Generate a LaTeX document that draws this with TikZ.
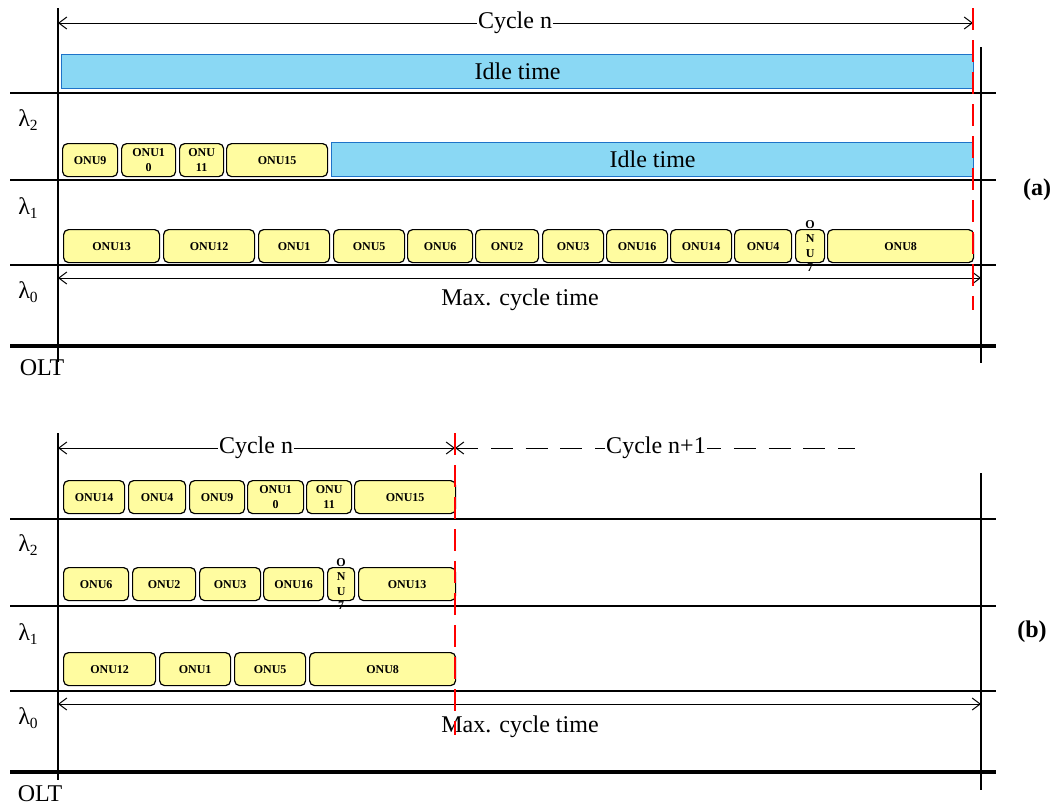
\documentclass[tikz,border=0pt]{standalone}
\usepackage{fontspec}
\setmainfont{Liberation Serif}
\usetikzlibrary{arrows.meta}
\definecolor{onuyellow}{RGB}{255,252,160}
\definecolor{idleblue}{RGB}{138,216,244}
\definecolor{idleedge}{RGB}{30,115,200}
\newcommand\lamsub[1]{λ\raisebox{-4pt}{\fontsize{15.5}{15.5}\selectfont #1}}
\tikzset{
 onu/.style={draw=black, line width=1.2pt, fill=onuyellow, rounded corners=5pt, inner sep=0pt, anchor=north west},
 idle/.style={draw=idleedge, line width=1.2pt, fill=idleblue, inner sep=0pt, anchor=north west},
 onutxt/.style={font=\bfseries\fontsize{12}{14.5}\selectfont, align=center, inner sep=0pt},
 big/.style={font=\fontsize{24}{28}\selectfont, inner sep=1pt},
 chan/.style={line width=2pt},
 basel/.style={line width=4.5pt},
 axis/.style={line width=1.3pt},
 tipb/.tip={Straight Barb[length=8pt,width=12pt]},
 span/.style={line width=1pt, tipb-tipb},
 cut/.style={red, line width=1.3pt, dash pattern=on 22pt off 10pt},
}
\begin{document}
\begin{tikzpicture}[x=1pt,y=-1pt]
\useasboundingbox (0,0) rectangle (1060,807);

% ================= (a) =================
\draw[axis] (58,8) -- (58,362);
\draw[axis] (981,47) -- (981,363);
\foreach \yy in {93,180,265} \draw[chan] (10,\yy) -- (996,\yy);
\draw[basel] (10,346) -- (996,346);

% idle bars
\node[idle, minimum width=912pt, minimum height=34pt] (idle3) at (61,54) {};
\node[big] (idle3t) at (idle3.center) {Idle time};
\node[idle, minimum width=642pt, minimum height=34pt] (idle2) at (331,142) {};
\node[big] (idle2t) at (idle2.center) {Idle time};

% lambda2 row (a)
\foreach \nm/\xa/\xb/\tx in {aa9/62/117/ONU9, aa10/121/175/{ONU1\\0}, aa11/179/223/{ONU\\11}, aa15/226/327/ONU15} {
  \pgfmathsetmacro\w{\xb-\xa}
  \node[onu, minimum width=\w pt, minimum height=33pt] (\nm) at (\xa,143) {};
  \node[onutxt] (\nm-t) at (\nm.center) {\tx};
}
% lambda1 row (a)
\foreach \nm/\xa/\xb/\tx in {ab13/63/159/ONU13, ab12/163/254/ONU12, ab1/258/329/ONU1, ab5/333/404/ONU5, ab6/407/472/ONU6, ab2/475/538/ONU2, ab3/542/603/ONU3, ab16/606/667/ONU16, ab14/670/731/ONU14, ab4/734/791/ONU4, ab7/795/824/{O\\N\\U\\7}, ab8/827/973/ONU8} {
  \pgfmathsetmacro\w{\xb-\xa}
  \node[onu, minimum width=\w pt, minimum height=33pt] (\nm) at (\xa,229) {};
  \node[onutxt] (\nm-t) at (\nm.center) {\tx};
}

% arrows (a)
\coordinate (acs) at (58,23);
\coordinate (ace) at (973,23);
\draw[span] (acs) -- (ace);
\node[big, fill=white] (acyc) at (515,23) {Cycle n};
\coordinate (ams) at (58,278);
\coordinate (ame) at (981,278);
\draw[span] (ams) -- (ame);
\node[big] (amax) at (520,300) {Max. cycle time};
\draw[cut] (973,8) -- (973,310);

% labels (a)
\node[big] (al2) at (28,120) {\lamsub{2}};
\node[big] (al1) at (28,208) {\lamsub{1}};
\node[big] (al0) at (28,292) {\lamsub{0}};
\node[big] (aolt) at (42,368) {OLT};
\node[big, font=\bfseries\fontsize{24}{28}\selectfont] (alab) at (1037,190) {(a)};

% ================= (b) =================
\draw[axis] (58,433) -- (58,780);
\draw[axis] (981,473) -- (981,790);
\foreach \yy in {519,606,691} \draw[chan] (10,\yy) -- (996,\yy);
\draw[basel] (10,772) -- (996,772);

\foreach \nm/\xa/\xb/\tx in {ba14/63/124/ONU14, ba4/128/185/ONU4, ba9/189/244/ONU9, ba10/247/303/{ONU1\\0}, ba11/306/351/{ONU\\11}, ba15/354/455/ONU15} {
  \pgfmathsetmacro\w{\xb-\xa}
  \node[onu, minimum width=\w pt, minimum height=33pt] (\nm) at (\xa,480) {};
  \node[onutxt] (\nm-t) at (\nm.center) {\tx};
}
\foreach \nm/\xa/\xb/\tx in {bb6/63/128/ONU6, bb2/132/195/ONU2, bb3/199/260/ONU3, bb16/263/323/ONU16, bb7/327/354/{O\\N\\U\\7}, bb13/358/455/ONU13} {
  \pgfmathsetmacro\w{\xb-\xa}
  \node[onu, minimum width=\w pt, minimum height=33pt] (\nm) at (\xa,567) {};
  \node[onutxt] (\nm-t) at (\nm.center) {\tx};
}
\foreach \nm/\xa/\xb/\tx in {bc12/63/155/ONU12, bc1/159/230/ONU1, bc5/234/305/ONU5, bc8/309/455/ONU8} {
  \pgfmathsetmacro\w{\xb-\xa}
  \node[onu, minimum width=\w pt, minimum height=33pt] (\nm) at (\xa,652) {};
  \node[onutxt] (\nm-t) at (\nm.center) {\tx};
}

% arrows (b)
\coordinate (bcs) at (58,448);
\coordinate (bce) at (455,448);
\coordinate (bne) at (855,448);
\draw[span] (bcs) -- (bce);
\node[big, fill=white] (bcyc) at (256,448) {Cycle n};
\draw[line width=1pt, dash pattern=on 22pt off 12.7pt, tipb-] (bce) -- (bne);
\node[big, fill=white] (bcyc1) at (656,448) {Cycle n+1};
\coordinate (bms) at (58,704);
\coordinate (bme) at (981,704);
\draw[span] (bms) -- (bme);
\node[big] (bmax) at (520,727) {Max. cycle time};
\draw[cut] (455,433) -- (455,735);

% labels (b)
\node[big] (bl2) at (28,545) {\lamsub{2}};
\node[big] (bl1) at (28,634) {\lamsub{1}};
\node[big] (bl0) at (28,718) {\lamsub{0}};
\node[big] (bolt) at (40,794) {OLT};
\node[big, font=\bfseries\fontsize{24}{28}\selectfont] (blab) at (1032,632) {(b)};
\end{tikzpicture}
\end{document}
